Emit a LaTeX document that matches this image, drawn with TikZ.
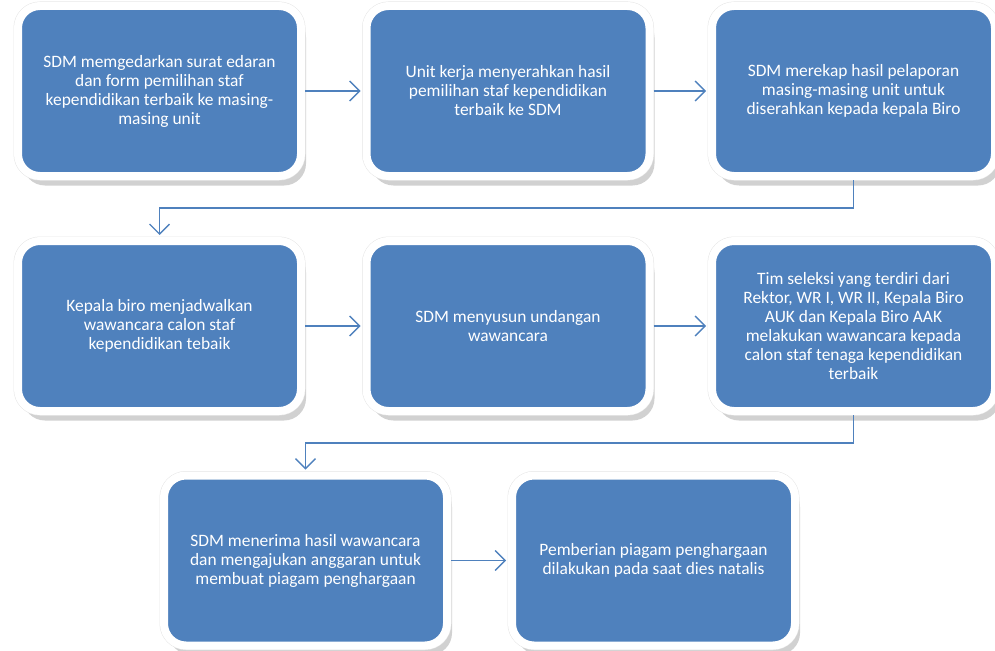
\documentclass[tikz,border=0pt]{standalone}
\usepackage{fontspec}
\setmainfont{Carlito}
\usetikzlibrary{arrows.meta,shadows}
\definecolor{stepblue}{HTML}{4F81BD}
\tikzset{
  stepbox/.style={rectangle, rounded corners=22pt, fill=stepblue,
    draw=white, line width=8pt,
    drop shadow={shadow xshift=5pt, shadow yshift=-9.5pt, opacity=0.3, fill=black!60},
    preaction={draw=black!10, line width=9pt},
    minimum width=283pt, minimum height=170pt, text=white, align=center,
    font=\fontsize{17.4}{19}\selectfont},
  flow/.style={draw=stepblue, line width=1.3pt, -{Straight Barb[length=10pt,width=20pt]}}
}
\begin{document}
\begin{tikzpicture}[x=1pt,y=-1pt]
      \useasboundingbox (0,0) rectangle (995,650);
      \path
        (159.5,91) node[stepbox] (1) {SDM memgedarkan surat edaran\\dan form pemilihan staf\\kependidikan terbaik ke masing-\\masing unit}
        (508,91) node[stepbox] (2) {Unit kerja menyerahkan hasil\\pemilihan staf kependidikan\\terbaik ke SDM}
        (853.5,91) node[stepbox] (3) {SDM merekap hasil pelaporan\\masing-masing unit untuk\\diserahkan kepada kepala Biro}
        (159.5,326) node[stepbox] (4) {Kepala biro menjadwalkan\\wawancara calon staf\\kependidikan tebaik}
        (508,326) node[stepbox] (5) {SDM menyusun undangan\\wawancara}
        (853.5,326) node[stepbox] (6) {Tim seleksi yang terdiri dari\\Rektor, WR I, WR II, Kepala Biro\\AUK dan Kepala Biro AAK\\melakukan wawancara kepada\\calon staf tenaga kependidikan\\terbaik}
        (305.5,560.5) node[stepbox] (7) {SDM menerima hasil wawancara\\dan mengajukan anggaran untuk\\membuat piagam penghargaan}
        (653.5,560.5) node[stepbox] (8) {Pemberian piagam penghargaan\\dilakukan pada saat dies natalis};
      \begin{scope}[flow, shorten >=2pt]
        \draw (1) to (2);
        \draw (2) to (3);
        \draw (4) to (5);
        \draw (5) to (6);
        \draw (7) to (8);
        \draw (3.south) -- ++(0,28) -| (4.north);
        \draw (6.south) -- ++(0,28) -| (7.north);
      \end{scope}
    \end{tikzpicture}
\end{document}
